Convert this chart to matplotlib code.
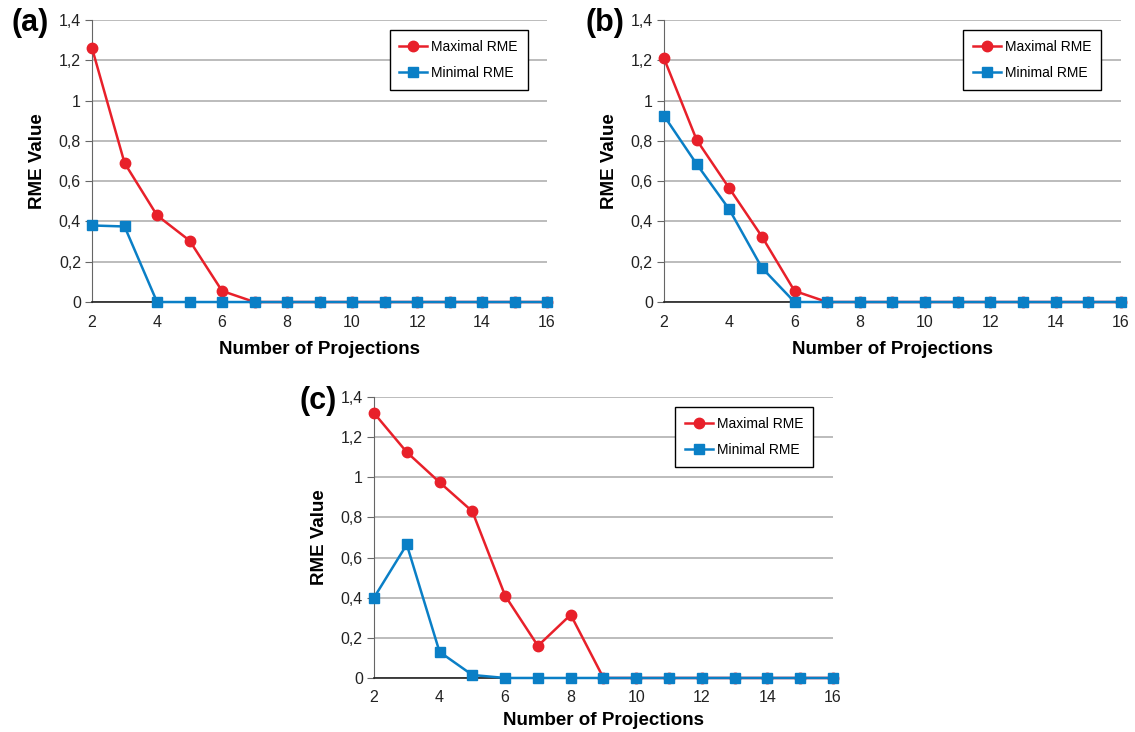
import matplotlib
matplotlib.use("Agg")
import matplotlib.pyplot as plt
from matplotlib.ticker import FuncFormatter

plt.rcParams['font.family'] = ['Liberation Sans', 'DejaVu Sans']

projections = list(range(2, 17))

# panel (a)
max_a = [1.26, 0.69, 0.43, 0.305, 0.055, 0, 0, 0, 0, 0, 0, 0, 0, 0, 0]
min_a = [0.38, 0.375, 0, 0, 0, 0, 0, 0, 0, 0, 0, 0, 0, 0, 0]
# panel (b)
max_b = [1.21, 0.805, 0.565, 0.325, 0.055, 0, 0, 0, 0, 0, 0, 0, 0, 0, 0]
min_b = [0.925, 0.685, 0.46, 0.17, 0, 0, 0, 0, 0, 0, 0, 0, 0, 0, 0]
# panel (c)
max_c = [1.32, 1.125, 0.975, 0.83, 0.41, 0.16, 0.315, 0, 0, 0, 0, 0, 0, 0, 0]
min_c = [0.40, 0.665, 0.13, 0.015, 0, 0, 0, 0, 0, 0, 0, 0, 0, 0, 0]

panel_labels = ["(a)", "(b)", "(c)"]
y_ticks = [0, 0.2, 0.4, 0.6, 0.8, 1.0, 1.2, 1.4]
x_ticks = [2, 4, 6, 8, 10, 12, 14, 16]

RED = "#e8202a"
BLUE = "#0a7fc6"


def comma_fmt(v, pos):
    s = f"{v:.1f}".rstrip("0").rstrip(".")
    return s.replace(".", ",")


def draw_panel(fig, rect, maxv, minv, label, label_xy, xlabel_pad=8):
    ax = fig.add_axes(rect)
    ax.plot(projections, maxv, color=RED, lw=1.8, marker="o", ms=7.5,
            label="Maximal RME", clip_on=False, zorder=3)
    ax.plot(projections, minv, color=BLUE, lw=1.8, marker="s", ms=7.5,
            label="Minimal RME", clip_on=False, zorder=4)
    ax.set_xlim(2, 16)
    ax.set_ylim(0, 1.4)
    ax.set_xticks(x_ticks)
    ax.set_yticks(y_ticks)
    ax.yaxis.set_major_formatter(FuncFormatter(comma_fmt))
    ax.grid(axis="y", color="#b0b0b0", lw=1.2)
    ax.set_axisbelow(True)
    for s in ["top", "right"]:
        ax.spines[s].set_visible(False)
    ax.spines["left"].set_color("#666666")
    ax.spines["bottom"].set_color("#222222")
    ax.spines["bottom"].set_linewidth(1.2)
    ax.tick_params(axis="x", length=0, pad=9, labelsize=11.5, colors="#222222")
    ax.tick_params(axis="y", length=5, color="#666666", labelsize=11.5,
                   labelcolor="#222222", pad=3)
    ax.set_xlabel("Number of Projections", fontsize=13.5, fontweight="bold",
                  labelpad=xlabel_pad)
    ax.set_ylabel("RME Value", fontsize=13.5, fontweight="bold", labelpad=9)
    leg = ax.legend(loc="upper right", bbox_to_anchor=(0.957, 0.965),
                    fancybox=False, framealpha=1, edgecolor="black",
                    fontsize=10, handlelength=2.0, borderpad=0.7,
                    labelspacing=0.9, handletextpad=0.3, borderaxespad=0)
    leg.get_frame().set_linewidth(1.0)
    fig.text(label_xy[0], label_xy[1], label, fontsize=22, fontweight="bold",
             ha="center", va="center")
    return ax


fig = plt.figure(figsize=(11.35, 7.32), dpi=100)

draw_panel(fig, [0.0811, 0.5874, 0.4009, 0.3853], max_a, min_a,
           panel_labels[0], (30 / 1135, 1 - 23 / 732))
draw_panel(fig, [0.5850, 0.5874, 0.4026, 0.3853], max_b, min_b,
           panel_labels[1], (605 / 1135, 1 - 23 / 732))
draw_panel(fig, [0.3295, 0.0738, 0.4044, 0.3839], max_c, min_c,
           panel_labels[2], (318 / 1135, 1 - 401 / 732), xlabel_pad=5)

fig.savefig("out.png", dpi=100)
